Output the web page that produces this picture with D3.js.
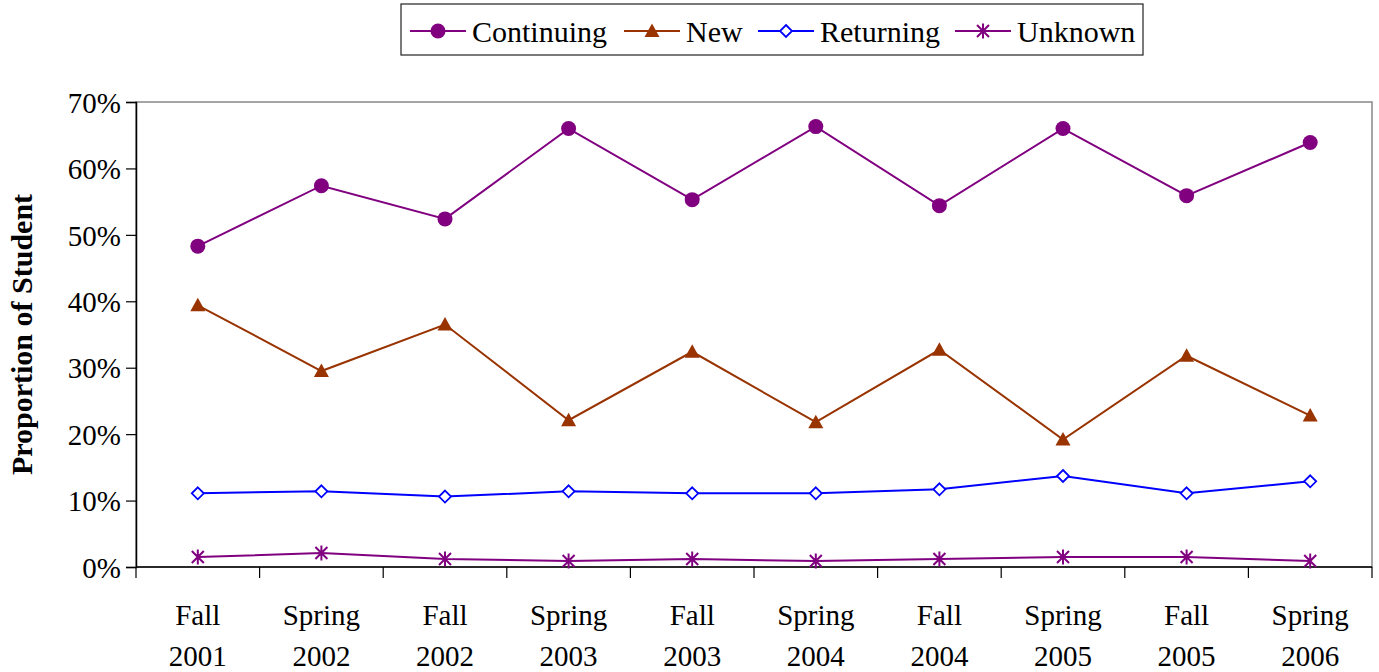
<!DOCTYPE html>
<html>
<head>
<meta charset="utf-8">
<script src="https://cdn.jsdelivr.net/npm/d3@7"></script>
<style>
  body { margin: 0; background: #fff; }
  text { font-family: "Liberation Serif", "DejaVu Serif", serif; fill: #000; }
</style>
</head>
<body>
<div id="chart"></div>
<script>
(function (d3) {
    'use strict';

    // Data.
    var terms = ['Fall 2001', 'Spring 2002', 'Fall 2002', 'Spring 2003', 'Fall 2003',
                 'Spring 2004', 'Fall 2004', 'Spring 2005', 'Fall 2005', 'Spring 2006'];
    var continuing = [48.3, 57.4, 52.4, 66.0, 55.3, 66.3, 54.4, 66.0, 55.9, 63.9];
    var newStudents = [39.4, 29.5, 36.5, 22.1, 32.4, 21.8, 32.7, 19.2, 31.8, 22.8];
    var returning = [11.1, 11.4, 10.6, 11.4, 11.1, 11.1, 11.7, 13.7, 11.1, 12.9];
    var unknown = [1.5, 2.1, 1.2, 0.9, 1.2, 0.9, 1.2, 1.5, 1.5, 0.9];
    var yTicks = [0, 10, 20, 30, 40, 50, 60, 70];

    var series = [
        {name: 'Continuing', values: continuing, color: '#800080', marker: 'circle'},
        {name: 'New', values: newStudents, color: '#993300', marker: 'triangle'},
        {name: 'Returning', values: returning, color: '#0000ff', marker: 'diamond'},
        {name: 'Unknown', values: unknown, color: '#800080', marker: 'star'}
    ];

    var W = 1379, H = 672;
    var margin = {top: 102, right: 7, bottom: 105, left: 136};
    var width = W - margin.left - margin.right;
    var height = H - margin.top - margin.bottom;

    var x = d3.scaleBand().domain(terms).range([0, width]);
    var y = d3.scaleLinear().domain([0, 70]).range([height, 0]);

    var svg = d3.select('#chart').append('svg')
        .attr('width', W)
        .attr('height', H);

    var vis = svg.append('g')
        .attr('transform', 'translate(' + margin.left + ',' + margin.top + ')');

    // Plot frame (grey top / right).
    vis.append('rect')
        .attr('x', 0).attr('y', 0)
        .attr('width', width).attr('height', height)
        .attr('fill', 'none')
        .attr('stroke', '#888')
        .attr('stroke-width', 1.5);

    // Y axis
    var yAxis = vis.append('g')
        .call(d3.axisLeft(y).tickValues(yTicks).tickSize(10).tickPadding(5)
            .tickFormat(function (d) { return d + '%'; }))
        .attr('font-family', null)
        .attr('font-size', null);
    yAxis.select('.domain').attr('stroke', '#000').attr('stroke-width', 1.5);
    yAxis.selectAll('.tick line').attr('stroke', '#000').attr('stroke-width', 1.2);
    yAxis.selectAll('.tick text')
        .style('font-family', '"Liberation Serif", serif')
        .style('font-size', '29px')
        .attr('dy', '0.35em');

    // X axis: ticks at band boundaries
    var xAxis = vis.append('g')
        .attr('transform', 'translate(0,' + height + ')');
    xAxis.append('line')
        .attr('x1', 0).attr('x2', width)
        .attr('stroke', '#000').attr('stroke-width', 1.5);
    var bounds = terms.map(function (t) { return x(t); }).concat([width]);
    xAxis.selectAll('.xtick').data(bounds).enter().append('line')
        .attr('x1', function (d) { return d; })
        .attr('x2', function (d) { return d; })
        .attr('y1', 0).attr('y2', 11)
        .attr('stroke', '#000').attr('stroke-width', 1.2);
    var labels = xAxis.selectAll('.xlabel').data(terms).enter().append('text')
        .attr('text-anchor', 'middle')
        .attr('transform', function (d) {
            return 'translate(' + (x(d) + x.bandwidth() / 2) + ',0)';
        })
        .style('font-size', '29px');
    labels.append('tspan').attr('x', 0).attr('y', 58)
        .text(function (d) { return d.split(' ')[0]; });
    labels.append('tspan').attr('x', 0).attr('y', 99)
        .text(function (d) { return d.split(' ')[1]; });

    // Y title
    svg.append('text')
        .attr('transform', 'translate(32,' + (margin.top + height / 2 + 0) + ') rotate(-90)')
        .attr('text-anchor', 'middle')
        .style('font-size', '30px')
        .style('font-weight', 'bold')
        .text('Proportion of Student');

    function drawMarker(sel, s) {
        if (s.marker === 'circle') {
            sel.append('circle').attr('r', 7.5).attr('fill', s.color);
        } else if (s.marker === 'triangle') {
            sel.append('path').attr('d', 'M0,-7.5L7.5,6L-7.5,6Z').attr('fill', s.color);
        } else if (s.marker === 'diamond') {
            sel.append('path').attr('d', 'M0,-6L6,0L0,6L-6,0Z')
                .attr('fill', '#fff').attr('stroke', s.color).attr('stroke-width', 1.8);
        } else {
            sel.append('path')
                .attr('d', 'M-6,-6L6,6M-6,6L6,-6M0,-7.5L0,7.5')
                .attr('fill', 'none').attr('stroke', s.color).attr('stroke-width', 2);
        }
    }

    var line = d3.line()
        .x(function (d, i) { return x(terms[i]) + x.bandwidth() / 2; })
        .y(function (d) { return y(d); });

    series.forEach(function (s) {
        vis.append('path')
            .datum(s.values)
            .attr('fill', 'none')
            .attr('stroke', s.color)
            .attr('stroke-width', 2)
            .attr('d', line);

        vis.selectAll(null).data(s.values).enter().append('g')
            .attr('transform', function (d, i) {
                return 'translate(' + (x(terms[i]) + x.bandwidth() / 2) + ',' + y(d) + ')';
            })
            .each(function () { drawMarker(d3.select(this), s); });
    });

    // Legend
    var legend = svg.append('g');
    legend.append('rect')
        .attr('x', 401).attr('y', 4)
        .attr('width', 742).attr('height', 51)
        .attr('fill', '#fff')
        .attr('stroke', '#222')
        .attr('stroke-width', 1.2);

    var legendX = [410, 624, 758, 955];
    series.forEach(function (s, i) {
        var g = legend.append('g').attr('transform', 'translate(' + legendX[i] + ',31)');
        g.append('line').attr('x1', 0).attr('x2', 56)
            .attr('stroke', s.color).attr('stroke-width', 2);
        drawMarker(g.append('g').attr('transform', 'translate(28,0)'), s);
        g.append('text')
            .attr('x', 62)
            .attr('dy', '0.35em')
            .style('font-size', '30px')
            .text(s.name);
    });

})(d3);
</script>
</body>
</html>
